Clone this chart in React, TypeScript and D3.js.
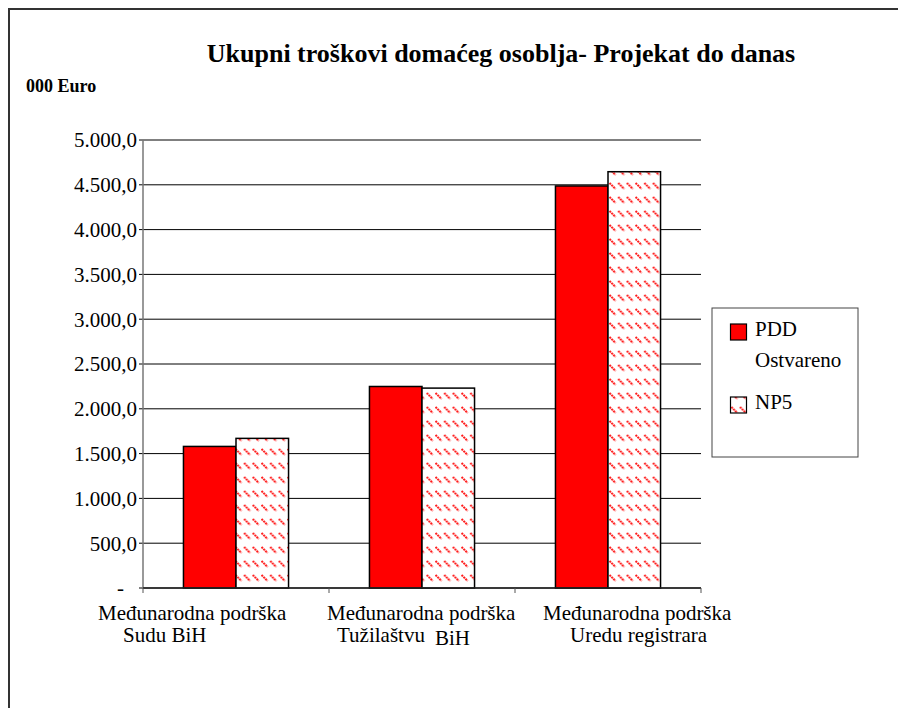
import * as d3 from 'd3';

const WIDTH = 898;
const HEIGHT = 708;
const PLOT = { left: 143, right: 701, top: 140, bottom: 588 };
const SERIF = '"Liberation Serif", "Times New Roman", serif';

// data (000 Euro)
const categories = ['Sudu BiH', 'Tužilaštvu BiH', 'Uredu registrara'];
const categoryLines = [
    ['Međunarodna podrška', 'Sudu BiH'],
    ['Međunarodna podrška', 'Tužilaštvu', 'BiH'],
    ['Međunarodna podrška', 'Uredu registrara'],
];
const seriesNames = ['PDD Ostvareno', 'NP5'];
const pddValues = [1580, 2249, 4487];
const np5Values = [1670, 2231, 4646];
const yTicks = [0, 500, 1000, 1500, 2000, 2500, 3000, 3500, 4000, 4500, 5000];

// excel placed the wrapped labels a bit off-centre
const LINE1_DX = [-45, -2, 28];
const LINE2_DX = [-20, 8, 55];

const locale = d3.formatLocale({ decimal: ',', thousands: '.', grouping: [3], currency: ['', ''] });
const fmt = locale.format(',.1f');

const App = () => {
    const xScale = d3.scaleBand<string>()
        .domain(categories)
        .range([PLOT.left, PLOT.right])
        .padding(0);

    const xInner = d3.scaleBand<string>()
        .domain(seriesNames)
        .range([0, xScale.bandwidth()])
        .paddingInner(0)
        .paddingOuter(0.77);

    const yScale = d3.scaleLinear()
        .domain([0, 5000])
        .range([PLOT.bottom, PLOT.top]);

    const seriesValues = [pddValues, np5Values];
    const seriesFill = ['#ff0000', 'url(#np5Hatch)'];

    const bars = categories.flatMap((cat, i) =>
        seriesNames.map((name, s) => {
            const v = seriesValues[s][i];
            const x = (xScale(cat) || 0) + (xInner(name) || 0);
            return (
                <rect
                    key={cat + name}
                    x={x}
                    y={yScale(v)}
                    width={xInner.bandwidth()}
                    height={yScale(0) - yScale(v)}
                    fill={seriesFill[s]}
                    stroke="#000"
                    strokeWidth={1.5}
                />
            );
        })
    );

    const grid = yTicks.map((t) => (
        <g key={t}>
            <line x1={PLOT.left - 4} x2={PLOT.right} y1={yScale(t)} y2={yScale(t)} stroke="#000" strokeWidth={1} />
            <text
                x={PLOT.left - 6}
                dx={t === 0 ? -13 : 0}
                y={yScale(t)}
                dy="0.35em"
                textAnchor="end"
                fontSize={21}
            >
                {t === 0 ? '-' : fmt(t)}
            </text>
        </g>
    ));

    const catTicks = [...categories.map((c) => xScale(c) || 0), PLOT.right].map((x, i) => (
        <line key={i} x1={x} x2={x} y1={PLOT.bottom} y2={PLOT.bottom + 5} stroke="#555" strokeWidth={1} />
    ));

    const xLabels = categories.map((cat, i) => {
        const x0 = xScale(cat) || 0;
        const lines = categoryLines[i];
        return (
            <g key={cat} fontSize={21}>
                <text x={x0 + LINE1_DX[i]} y={620}>{lines[0]}</text>
                <text x={x0 + LINE2_DX[i]} y={642}>
                    {lines[1]}
                    {lines[2] && <tspan dx={10} dy={3}>{lines[2]}</tspan>}
                </text>
            </g>
        );
    });

    return (
        <svg
            width={WIDTH}
            height={HEIGHT}
            style={{ position: 'fixed', left: 0, top: 0, background: '#fff' }}
            fontFamily={SERIF}
        >
            <defs>
                <pattern id="np5Hatch" patternUnits="userSpaceOnUse" width={8.7} height={14}>
                    <rect width={8.7} height={14} fill="#fff" />
                    <line x1={0.5} y1={1} x2={6.5} y2={7} stroke="#ff1a1a" strokeWidth={2} strokeDasharray="2 0.7" />
                </pattern>
            </defs>

            <rect x={9} y={9} width={1000} height={1000} fill="none" stroke="#333" strokeWidth={2} />

            <text x={501} y={62} textAnchor="middle" fontSize={26} fontWeight="bold">
                Ukupni troškovi domaćeg osoblja- Projekat do danas
            </text>
            <text x={26} y={92} fontSize={18} fontWeight="bold">000 Euro</text>

            {grid}
            {bars}

            <line x1={PLOT.left} x2={PLOT.left} y1={PLOT.top} y2={PLOT.bottom} stroke="#777" strokeWidth={1.5} />
            <line x1={PLOT.left} x2={PLOT.right} y1={PLOT.bottom} y2={PLOT.bottom} stroke="#222" strokeWidth={1.5} />
            {catTicks}
            {xLabels}

            <g>
                <rect x={712} y={308} width={146} height={149} fill="#fff" stroke="#444" strokeWidth={1} />
                <rect x={730.5} y={324} width={16} height={16} fill={seriesFill[0]} stroke="#000" strokeWidth={1.2} />
                <text x={755} y={336} fontSize={21}>{seriesNames[0].split(' ')[0]}</text>
                <text x={755} y={367} fontSize={21}>{seriesNames[0].split(' ')[1]}</text>
                <rect x={730.5} y={397} width={16} height={16} fill={seriesFill[1]} stroke="#000" strokeWidth={1.2} />
                <text x={755} y={409} fontSize={21}>{seriesNames[1]}</text>
            </g>
        </svg>
    );
};

export default App;
